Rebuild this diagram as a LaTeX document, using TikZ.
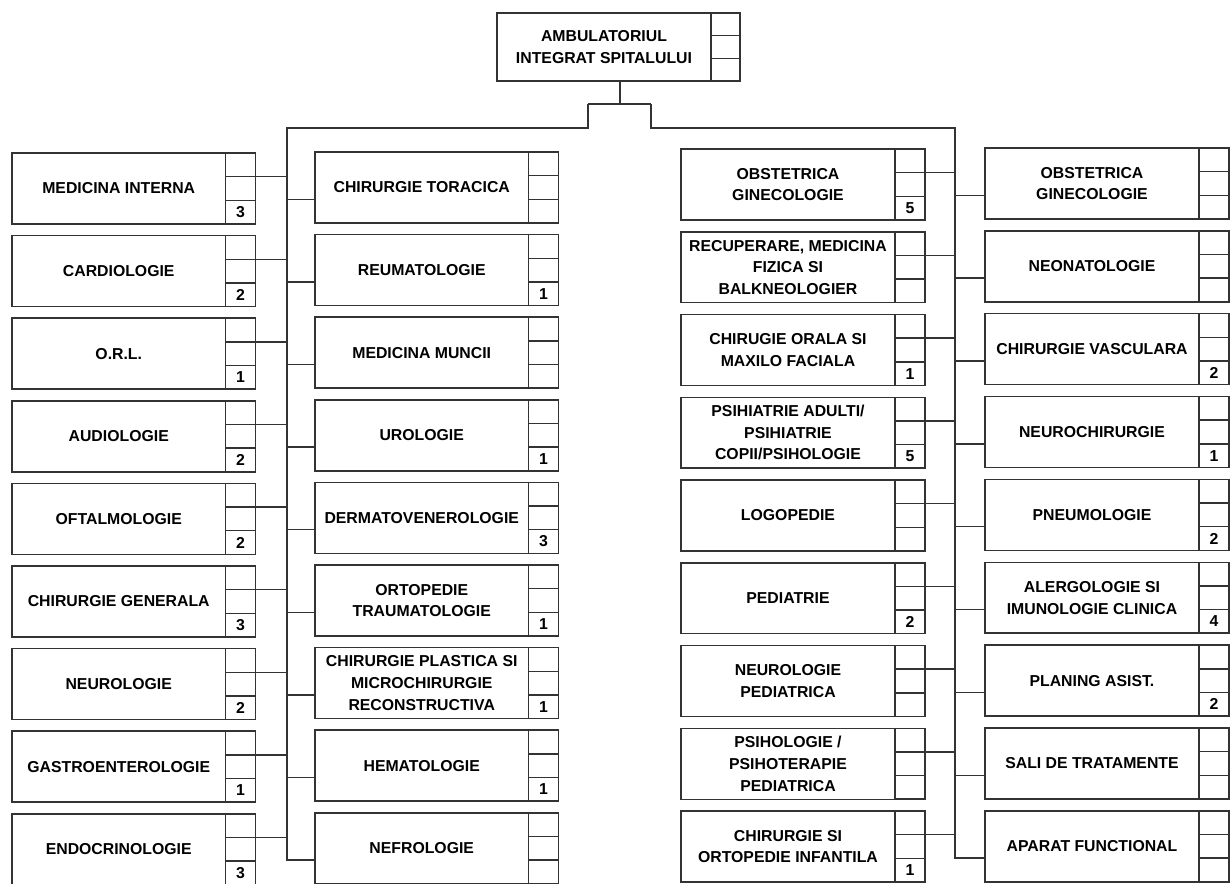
\documentclass[tikz,border=0pt]{standalone}
\usepackage{fontspec}
\setmainfont{Liberation Sans}
\usetikzlibrary{positioning}

\begin{document}
\begin{tikzpicture}[
    x=0.02cm, y=-0.02cm,
    every node/.style={font=\fontsize{9}{12.3}\selectfont\bfseries, text=black},
    dept/.style={draw=black!80, line width=0.85pt, anchor=north west,
                 minimum width=4.27cm, minimum height=1.42cm, inner sep=1pt,
                 outer sep=0pt, align=center},
    slot/.style={draw=black!80, line width=0.85pt, anchor=north west,
                 minimum width=0.6cm, minimum height=0.4733cm, inner sep=0pt,
                 outer sep=0pt},
    link/.style={draw=black!80, line width=0.85pt}
]
\useasboundingbox (0,0) rectangle (1231,883);

% Top: the integrated outpatient unit
\node[dept, minimum width=4.28cm, minimum height=1.36cm] (top) at (497,13)
    {AMBULATORIUL\\INTEGRAT SPITALULUI};
\node[slot, minimum width=0.58cm, minimum height=0.4533cm] (top-a) at (top.north east) {};
\node[slot, minimum width=0.58cm, minimum height=0.4533cm, below=0pt of top-a] (top-b) {};
\node[slot, minimum width=0.58cm, minimum height=0.4533cm, below=0pt of top-b] (top-c) {};

% Fork under the top box
\coordinate (split) at (620,104);
\coordinate (lfork) at (588,104);
\coordinate (rfork) at (651,104);
\coordinate (lknee) at (588,128);
\coordinate (rknee) at (651,128);
\coordinate (ltop) at (287,128);
\coordinate (rtop) at (955,128);
\draw[link] (split |- top.south) -- (split);
\draw[link] (lfork) -- (rfork);

% Column 1
\foreach \i/\txt/\num [evaluate=\i as \y using 153+(\i-1)*82.6] in {
    1/{MEDICINA INTERNA}/3, 2/{CARDIOLOGIE}/2, 3/{O.R.L.}/1,
    4/{AUDIOLOGIE}/2, 5/{OFTALMOLOGIE}/2, 6/{CHIRURGIE GENERALA}/3,
    7/{NEUROLOGIE}/2, 8/{GASTROENTEROLOGIE}/1, 9/{ENDOCRINOLOGIE}/3} {
  \node[dept] (A\i) at (12,\y) {\txt};
  \node[slot] (A\i-a) at (A\i.north east) {};
  \node[slot, below=0pt of A\i-a] (A\i-b) {};
  \node[slot, below=0pt of A\i-b] (A\i-c) {\num};
  \draw[link] (A\i-a.south east) -- (A\i-a.south east -| ltop);
}

% Column 2
\foreach \i/\txt/\num [evaluate=\i as \y using 152+(\i-1)*82.6] in {
    1/{CHIRURGIE TORACICA}/{}, 2/{REUMATOLOGIE}/1, 3/{MEDICINA MUNCII}/{},
    4/{UROLOGIE}/1, 5/{DERMATOVENEROLOGIE}/3, 6/{ORTOPEDIE\\TRAUMATOLOGIE}/1,
    7/{CHIRURGIE PLASTICA SI\\MICROCHIRURGIE\\RECONSTRUCTIVA}/1,
    8/{HEMATOLOGIE}/1, 9/{NEFROLOGIE}/{}} {
  \node[dept] (B\i) at (315,\y) {\txt};
  \node[slot] (B\i-a) at (B\i.north east) {};
  \node[slot, below=0pt of B\i-a] (B\i-b) {};
  \node[slot, below=0pt of B\i-b] (B\i-c) {\num};
  \draw[link] (B\i.west |- B\i-b.south) -- (ltop |- B\i-b.south);
}

% Column 3
\foreach \i/\txt/\num [evaluate=\i as \y using 149+(\i-1)*82.75] in {
    1/{OBSTETRICA\\GINECOLOGIE}/5,
    2/{RECUPERARE, MEDICINA\\FIZICA SI\\BALKNEOLOGIER}/{},
    3/{CHIRUGIE ORALA SI\\MAXILO FACIALA}/1,
    4/{PSIHIATRIE ADULTI/\\PSIHIATRIE\\COPII/PSIHOLOGIE}/5,
    5/{LOGOPEDIE}/{}, 6/{PEDIATRIE}/2, 7/{NEUROLOGIE\\PEDIATRICA}/{},
    8/{PSIHOLOGIE /\\PSIHOTERAPIE\\PEDIATRICA}/{},
    9/{CHIRURGIE SI\\ORTOPEDIE INFANTILA}/1} {
  \node[dept, minimum width=4.28cm] (C\i) at (681,\y) {\txt};
  \node[slot] (C\i-a) at (C\i.north east) {};
  \node[slot, below=0pt of C\i-a] (C\i-b) {};
  \node[slot, below=0pt of C\i-b] (C\i-c) {\num};
  \draw[link] (C\i-a.south east) -- (C\i-a.south east -| rtop);
}

% Column 4
\foreach \i/\txt/\num [evaluate=\i as \y using 148+(\i-1)*82.85] in {
    1/{OBSTETRICA\\GINECOLOGIE}/{}, 2/{NEONATOLOGIE}/{},
    3/{CHIRURGIE VASCULARA}/2, 4/{NEUROCHIRURGIE}/1, 5/{PNEUMOLOGIE}/2,
    6/{ALERGOLOGIE SI\\IMUNOLOGIE CLINICA}/4, 7/{PLANING ASIST.}/2,
    8/{SALI DE TRATAMENTE}/{}, 9/{APARAT FUNCTIONAL}/{}} {
  \node[dept, minimum width=4.28cm] (D\i) at (985,\y) {\txt};
  \node[slot] (D\i-a) at (D\i.north east) {};
  \node[slot, below=0pt of D\i-a] (D\i-b) {};
  \node[slot, below=0pt of D\i-b] (D\i-c) {\num};
  \draw[link] (D\i.west |- D\i-b.south) -- (rtop |- D\i-b.south);
}

% Trunks
\draw[link] (lfork) -- (lknee) -- (ltop) |- (B9.west |- B9-b.south);
\draw[link] (rfork) -- (rknee) -- (rtop) |- (D9.west |- D9-b.south);

\end{tikzpicture}
\end{document}
